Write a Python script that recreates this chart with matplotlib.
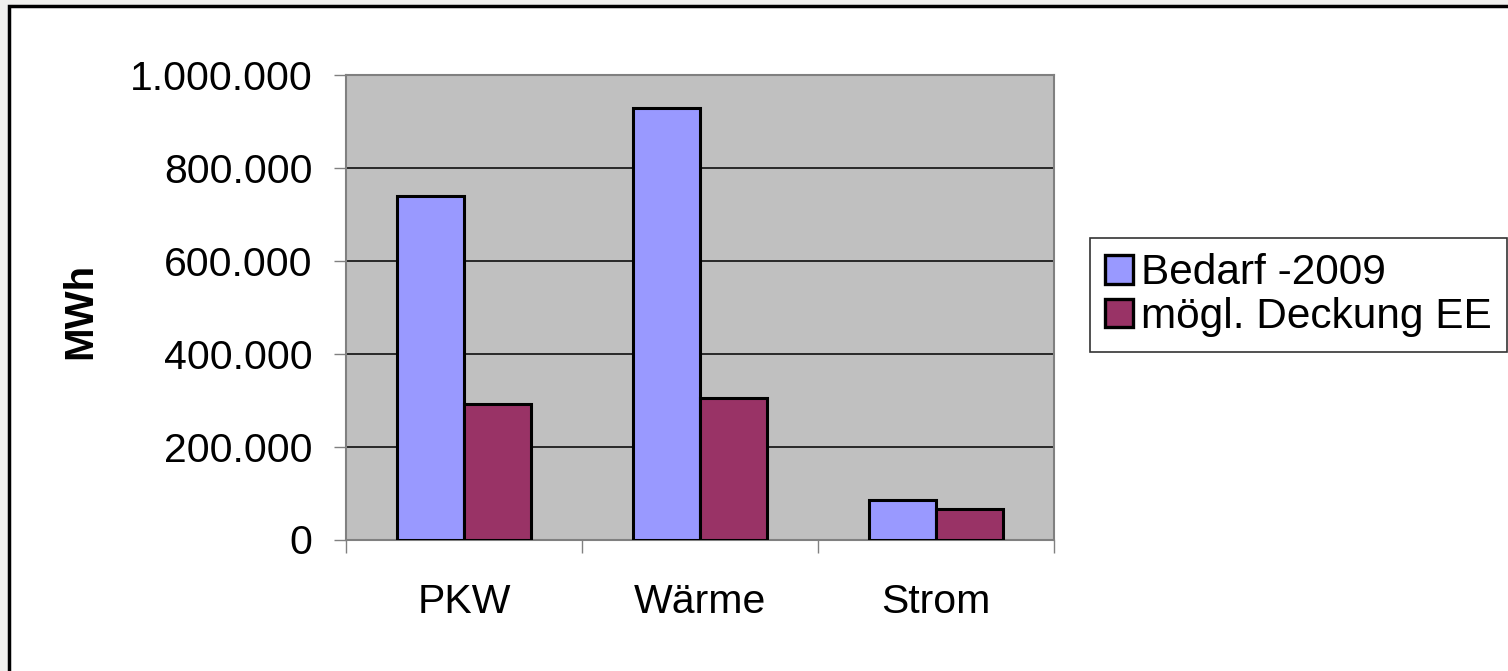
import matplotlib
matplotlib.use("Agg")
import matplotlib.pyplot as plt
import numpy as np
from matplotlib.patches import Rectangle
from matplotlib.ticker import FuncFormatter, FixedLocator

# Chart data (MWh)
categories = ["PKW", "Wärme", "Strom"]
series_names = ["Bedarf -2009", "mögl. Deckung EE"]
bedarf = [740000, 930000, 85000]
deckung = [291000, 304000, 65000]
y_ticks = [0, 200000, 400000, 600000, 800000, 1000000]

plt.rcParams["font.family"] = ["Liberation Sans", "DejaVu Sans"]

W, H = 1508, 671
fig = plt.figure(figsize=(W / 100, H / 100), dpi=100)
fig.patch.set_facecolor("#F0F0EE")

# white chart area with black frame (right/bottom edges run off the canvas)
fig.patches.append(Rectangle((8.5 / W, -0.1), 1.2, 1 - 5.5 / H + 0.1,
                             transform=fig.transFigure, facecolor="white",
                             edgecolor="black", linewidth=2.5, zorder=-10))

ax = fig.add_axes([346 / W, 1 - 539.5 / H, 708 / W, (539.5 - 75) / H])
ax.set_facecolor("#C0C0C0")

x = np.arange(len(categories))
bw = 0.284
ax.bar(x - bw / 2, bedarf, bw, color="#9999FF", edgecolor="black",
       linewidth=2.2, label=series_names[0], zorder=3)
ax.bar(x + bw / 2, deckung, bw, color="#993366", edgecolor="black",
       linewidth=2.2, label=series_names[1], zorder=3)

ax.set_xlim(-0.5, len(categories) - 0.5)
ax.set_ylim(0, 1000000)
ax.set_yticks(y_ticks)
ax.yaxis.set_major_formatter(FuncFormatter(lambda v, p: f"{int(v):,}".replace(",", ".")))
ax.grid(axis="y", color="black", linewidth=1.1, zorder=1)

# category boundary ticks + centred labels
ax.xaxis.set_major_locator(FixedLocator(np.arange(len(categories) + 1) - 0.5))
ax.xaxis.set_minor_locator(FixedLocator(x))
ax.set_xticklabels([""] * (len(categories) + 1))
ax.set_xticks(x, categories, minor=True)
ax.tick_params(axis="x", which="major", length=9, width=1, color="#808080", direction="out")
ax.tick_params(axis="x", which="minor", length=0, pad=31, labelsize=29.5)
ax.tick_params(axis="y", length=9, width=1, color="#808080", direction="out",
               pad=15, labelsize=29.5)

for side in ["left", "bottom", "top", "right"]:
    ax.spines[side].set_color("#808080")
    ax.spines[side].set_linewidth(1.5)

fig.text(80 / W, 1 - 311 / H, "MWh", rotation=90, fontsize=29,
         fontweight="bold", ha="center", va="center")

leg = ax.legend(loc="upper left", bbox_to_anchor=(1090 / W, 1 - 238 / H),
                bbox_transform=fig.transFigure, fontsize=30.5, frameon=True,
                fancybox=False, edgecolor="black", handlelength=0.65,
                handleheight=0.65, handletextpad=0.2, borderpad=0.36,
                labelspacing=0.08, borderaxespad=0)
leg.get_frame().set_linewidth(1.2)
for h in leg.legend_handles:
    h.set_linewidth(2.4)

fig.savefig("out.png", dpi=100, facecolor=fig.get_facecolor())
